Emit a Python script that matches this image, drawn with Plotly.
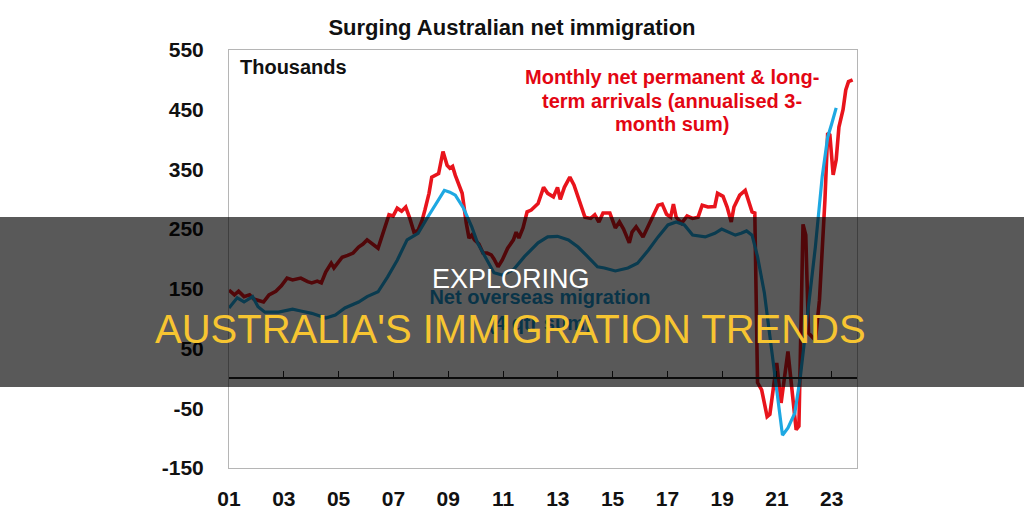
import plotly.graph_objects as go

# ---- Data ----
red_x = [2001.00, 2001.20, 2001.35, 2001.55, 2001.75, 2001.90, 2002.11, 2002.26, 2002.46, 2002.71,
         2002.91, 2003.12, 2003.32, 2003.62, 2003.87, 2004.02, 2004.22, 2004.37, 2004.53, 2004.73,
         2004.83, 2005.13, 2005.33, 2005.53, 2005.73, 2005.89, 2006.04, 2006.24, 2006.44, 2006.54,
         2006.69, 2006.84, 2006.99, 2007.14, 2007.30, 2007.45, 2007.60, 2007.75, 2007.90, 2008.05,
         2008.15, 2008.30, 2008.40, 2008.55, 2008.65, 2008.81, 2008.96, 2009.06, 2009.16, 2009.26,
         2009.36, 2009.51, 2009.66, 2009.76, 2009.86, 2009.96, 2010.12, 2010.27, 2010.42, 2010.57,
         2010.67, 2010.82, 2010.97, 2011.17, 2011.38, 2011.48, 2011.58, 2011.73, 2011.88, 2012.03,
         2012.28, 2012.48, 2012.63, 2012.84, 2012.99, 2013.09, 2013.24, 2013.44, 2013.59, 2013.69,
         2013.84, 2013.99, 2014.20, 2014.35, 2014.50, 2014.65, 2014.90, 2015.10, 2015.25, 2015.40,
         2015.61, 2015.71, 2015.86, 2016.11, 2016.31, 2016.46, 2016.66, 2016.81, 2016.97, 2017.12,
         2017.22, 2017.32, 2017.52, 2017.72, 2017.92, 2018.12, 2018.27, 2018.48, 2018.73, 2018.83,
         2019.03, 2019.18, 2019.33, 2019.43, 2019.64, 2019.84, 2019.94, 2020.09, 2020.19, 2020.29,
         2020.44, 2020.64, 2020.74, 2020.99, 2021.15, 2021.40, 2021.70, 2021.80, 2021.95, 2022.05,
         2022.15, 2022.40, 2022.55, 2022.65, 2022.75, 2022.85, 2022.93, 2023.05, 2023.16, 2023.26,
         2023.41, 2023.51, 2023.61, 2023.76]
red_y = [148, 140, 146, 137, 140, 133, 130, 128, 140, 146,
         155, 168, 165, 168, 162, 160, 163, 160, 178, 193,
         185, 203, 206, 210, 220, 225, 232, 225, 218, 232,
         255, 274, 272, 285, 280, 287, 268, 245, 248, 265,
         282, 310, 337, 340, 343, 380, 357, 352, 355, 340,
         327, 310, 260, 235, 240, 232, 225, 210, 210, 207,
         200, 187, 198, 218, 232, 245, 235, 252, 279, 282,
         293, 320, 310, 304, 320, 300, 320, 337, 324, 310,
         290, 270, 268, 274, 262, 277, 277, 252, 262, 250,
         227, 245, 254, 237, 256, 270, 290, 292, 275, 270,
         292, 270, 260, 272, 268, 270, 290, 287, 288, 310,
         305, 287, 262, 287, 307, 315, 300, 279, 277, -7,
         -19, -64, -60, 26, -41, 45, -86, -80, 258, 240,
         76, 64, 131, 215, 299, 411, 408, 341, 366, 421,
         450, 483, 497, 500]

blue_x = [2001.00, 2001.30, 2001.55, 2001.86, 2002.06, 2002.31, 2002.81, 2003.32, 2003.62, 2004.02,
          2004.53, 2004.88, 2005.23, 2005.73, 2006.04, 2006.44, 2006.79, 2007.14, 2007.50, 2007.90,
          2008.25, 2008.65, 2008.86, 2009.06, 2009.26, 2009.56, 2009.86, 2010.07, 2010.47, 2010.67,
          2010.97, 2011.38, 2011.78, 2012.28, 2012.63, 2012.99, 2013.39, 2013.74, 2014.09, 2014.45,
          2014.70, 2015.10, 2015.56, 2015.91, 2016.31, 2016.66, 2017.02, 2017.32, 2017.62, 2017.92,
          2018.38, 2018.73, 2018.98, 2019.23, 2019.48, 2019.69, 2019.89, 2020.09, 2020.29, 2020.54,
          2020.74, 2020.94, 2021.20, 2021.40, 2021.65, 2021.85, 2022.10, 2022.40, 2022.65, 2022.85,
          2023.00, 2023.16]
blue_y = [118, 135, 128, 137, 120, 111, 111, 116, 113, 109,
          101, 106, 118, 128, 137, 145, 170, 198, 232, 243,
          270, 299, 315, 312, 307, 285, 254, 227, 193, 177,
          173, 182, 204, 227, 237, 238, 232, 220, 204, 187,
          185, 180, 185, 193, 215, 237, 257, 262, 257, 240,
          237, 243, 250, 245, 240, 243, 247, 240, 204, 143,
          70, -3, -95, -83, -58, 2, 98, 220, 338, 404,
          427, 453]

x_tick_vals = [2001, 2003, 2005, 2007, 2009, 2011, 2013, 2015, 2017, 2019, 2021, 2023]
x_tick_text = ["01", "03", "05", "07", "09", "11", "13", "15", "17", "19", "21", "23"]
y_tick_vals = [-150, -50, 50, 150, 250, 350, 450, 550]
y_tick_text = ["-150", "-50", "50", "150", "250", "350", "450", "550"]

X_RANGE = [2001, 2023.92]
Y_RANGE = [-150, 550]

RED = "#e8141c"
BLUE = "#1ea8e2"
FONT = "Liberation Sans, Arial, sans-serif"

fig = go.Figure()

fig.add_trace(go.Scatter(x=red_x, y=red_y, mode="lines",
                         line=dict(color=RED, width=3.6), hoverinfo="skip", showlegend=False))
fig.add_trace(go.Scatter(x=blue_x, y=blue_y, mode="lines",
                         line=dict(color=BLUE, width=3.2), hoverinfo="skip", showlegend=False))

# Series label for net overseas migration (drawn as a trace so the overlay covers it)
fig.add_trace(go.Scatter(x=[2012.35], y=[111], mode="text", xaxis="x2",
                         text=["Net overseas migration<br>(4 qtr sum)"],
                         textposition="middle center",
                         textfont=dict(family=FONT, size=20, color="#1c95cf", weight="bold"),
                         hoverinfo="skip", showlegend=False))

fig.update_layout(
    width=1024, height=516,
    margin=dict(l=229, r=167, t=50, b=48, autoexpand=False),
    paper_bgcolor="white", plot_bgcolor="white",
    showlegend=False,
    title=dict(text="Surging Australian net immigration", x=0.5, xref="container",
               xanchor="center", y=1 - 27 / 516, yref="container", yanchor="middle",
               font=dict(family=FONT, size=22, color="#111111", weight="bold")),
    xaxis=dict(range=X_RANGE, tickvals=x_tick_vals, ticktext=x_tick_text,
               showgrid=False, zeroline=False, ticks="", automargin=False,
               showline=True, mirror=True, linecolor="#b5b5b5", linewidth=1,
               tickfont=dict(family=FONT, size=21, color="#111111", weight="bold"),
               ticklabelstandoff=12),
    xaxis2=dict(range=X_RANGE, tickvals=x_tick_vals, overlaying="x", anchor="free",
                position=150 / 700, side="bottom", showgrid=False, zeroline=False,
                showticklabels=False, ticks="inside", ticklen=7, tickwidth=1.2,
                automargin=False,
                tickcolor="#222222", showline=True, linecolor="#222222", linewidth=1.5),
    yaxis=dict(range=Y_RANGE, tickvals=y_tick_vals, ticktext=y_tick_text,
               showgrid=False, zeroline=False, ticks="", automargin=False,
               showline=True, mirror=True, linecolor="#b5b5b5", linewidth=1,
               tickfont=dict(family=FONT, size=21, color="#111111", weight="bold"),
               ticklabelstandoff=20),
)

# Text annotations inside the chart
fig.add_annotation(text="Thousands", xref="paper", yref="paper", x=0.0143, y=0.959,
                   xanchor="left", yanchor="middle", showarrow=False,
                   font=dict(family=FONT, size=20, color="#111111", weight="bold"))
red_lines = ["Monthly net permanent & long-", "term arrivals (annualised 3-", "month sum)"]
red_line_y = [0.935, 0.879, 0.824]
for txt, yy in zip(red_lines, red_line_y):
    fig.add_annotation(text=txt, xref="paper", yref="paper", x=0.7054, y=yy,
                       xanchor="center", yanchor="middle", showarrow=False,
                       font=dict(family=FONT, size=20, color="#e30613", weight="bold"))

# Dark banner overlay across the picture
fig.add_shape(type="rect", xref="paper", yref="paper", x0=-0.40, x1=1.30,
              y0=(468 - 387) / 418, y1=(468 - 217) / 418,
              fillcolor="rgba(0,0,0,0.65)", line=dict(width=0), layer="above")
fig.add_annotation(text="EXPLORING", xref="paper", yref="paper",
                   x=(511 - 229) / 628, y=(468 - 279) / 418,
                   xanchor="center", yanchor="middle", showarrow=False,
                   font=dict(family=FONT, size=27, color="white"))
fig.add_annotation(text="AUSTRALIA'S IMMIGRATION TRENDS", xref="paper", yref="paper",
                   x=(510 - 229) / 628, y=(468 - 329) / 418,
                   xanchor="center", yanchor="middle", showarrow=False,
                   font=dict(family=FONT, size=40, color="#f7c531"))

fig.write_html("out.html")
